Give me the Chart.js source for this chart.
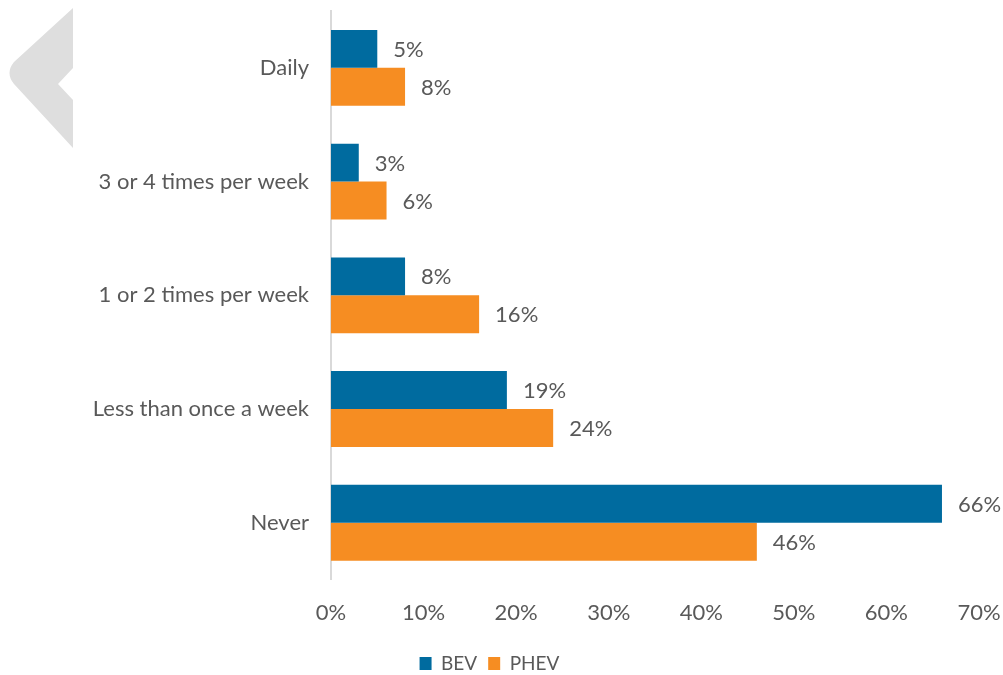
<!DOCTYPE html>
<html>
<head>
<meta charset="utf-8">
<script src="https://cdn.jsdelivr.net/npm/chart.js@4.4.1/dist/chart.umd.min.js"></script>
<style>
  html, body { margin: 0; padding: 0; background: #fff; }
  #wrap { position: relative; width: 1003px; height: 675px; }
  #deco { position: absolute; left: 0; top: 0; }
</style>
</head>
<body>
<div id="wrap">
  <!-- grey chevron in the corner -->
  <svg id="deco" width="80" height="160">
    <path d="M73,8 L14,62 Q5,73 14,84 L73,148 L73,100 L58,84 L73,68 Z" fill="#dedede"/>
  </svg>
  <canvas id="chart" width="1003" height="675"></canvas>
</div>
<script>
// charging frequency by vehicle type (percent of respondents)
const categories = ["Daily", "3 or 4 times per week", "1 or 2 times per week", "Less than once a week", "Never"];
const bevShare = [5, 3, 8, 19, 66];
const phevShare = [8, 6, 16, 24, 46];
const xTicks = [0, 10, 20, 30, 40, 50, 60, 70];

const textGrey = "#595959";
const fontFamily = "Lato, 'Open Sans', sans-serif";
const fontSize = 22;

// writes the value next to the end of each bar
const valueLabels = {
  id: "valueLabels",
  afterDatasetsDraw(chart) {
    const ctx = chart.ctx;
    ctx.save();
    ctx.font = fontSize + "px " + fontFamily;
    ctx.fillStyle = textGrey;
    ctx.textAlign = "left";
    ctx.textBaseline = "middle";
    chart.data.datasets.forEach((ds, i) => {
      chart.getDatasetMeta(i).data.forEach((bar, j) => {
        ctx.fillText(ds.data[j] + "%", bar.x + 16, bar.y + 1);
      });
    });
    ctx.restore();
  }
};

const ctx = document.getElementById("chart").getContext("2d");
new Chart(ctx, {
  type: "bar",
  data: {
    labels: categories,
    datasets: [
      { label: "BEV", data: bevShare, backgroundColor: "#006b9f" },
      { label: "PHEV", data: phevShare, backgroundColor: "#f68d22" }
    ]
  },
  options: {
    indexAxis: "y",
    responsive: false,
    animation: false,
    events: [],
    layout: { padding: { top: 11, right: 24, left: 0, bottom: -8 } },
    datasets: { bar: { barPercentage: 1, categoryPercentage: 2 / 3 } },
    scales: {
      x: {
        min: 0,
        max: 70,
        afterBuildTicks: (scale) => { scale.ticks = xTicks.map(v => ({ value: v })); },
        afterFit: (scale) => {
          scale.paddingLeft = 0;
          scale.paddingRight = 0;
          scale.height += 5;
        },
        grid: { display: false },
        border: { display: false },
        ticks: {
          color: textGrey,
          font: { family: fontFamily, size: fontSize },
          padding: 12,
          callback: (v) => v + "%"
        }
      },
      y: {
        afterFit: (scale) => {
          scale.width = 331;
          scale.paddingTop = 0;
          scale.paddingBottom = 0;
        },
        grid: { display: false, drawTicks: false },
        border: { display: true, color: "#d9d9d9", width: 2 },
        ticks: {
          color: textGrey,
          font: { family: fontFamily, size: fontSize },
          padding: 22
        }
      }
    },
    plugins: {
      legend: {
        position: "bottom",
        labels: {
          color: textGrey,
          font: { family: fontFamily, size: 19 },
          boxWidth: 12,
          boxHeight: 13,
          padding: 11,
          useBorderRadius: false
        }
      },
      tooltip: { enabled: false }
    }
  },
  plugins: [valueLabels]
});
</script>
</body>
</html>
